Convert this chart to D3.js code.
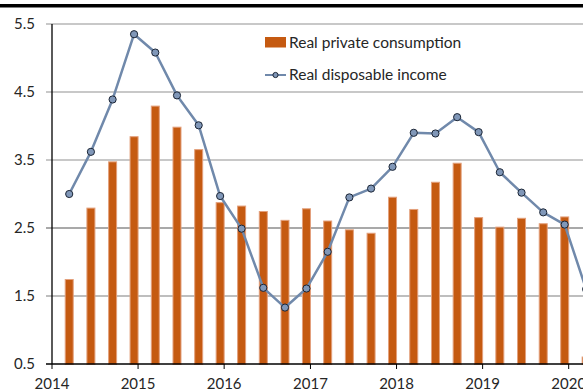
<!DOCTYPE html>
<html>
<head>
<meta charset="utf-8">
<script src="https://cdn.jsdelivr.net/npm/d3@7"></script>
<style>
  html, body { margin: 0; padding: 0; background: #fff; }
  svg { display: block; }
  text { font-family: Lato, "Open Sans", sans-serif; fill: #262626; }
</style>
</head>
<body>
<script>
// ---- Data ----
const quarters = [
  "2014Q1","2014Q2","2014Q3","2014Q4",
  "2015Q1","2015Q2","2015Q3","2015Q4",
  "2016Q1","2016Q2","2016Q3","2016Q4",
  "2017Q1","2017Q2","2017Q3","2017Q4",
  "2018Q1","2018Q2","2018Q3","2018Q4",
  "2019Q1","2019Q2","2019Q3","2019Q4",
  "2020Q1"
];
const consumption = [
  1.75, 2.80, 3.48, 3.85,
  4.30, 3.99, 3.66, 2.88,
  2.83, 2.75, 2.62, 2.79,
  2.61, 2.48, 2.43, 2.96,
  2.78, 3.18, 3.46, 2.66,
  2.52, 2.65, 2.57, 2.67,
  0.61
];
const income = [
  3.00, 3.62, 4.39, 5.35,
  5.08, 4.45, 4.01, 2.97,
  2.49, 1.62, 1.33, 1.61,
  2.15, 2.95, 3.08, 3.40,
  3.90, 3.89, 4.13, 3.91,
  3.32, 3.02, 2.73, 2.55,
  1.60
];
const yTicks = [0.5, 1.5, 2.5, 3.5, 4.5, 5.5];
const yearTicks = [2014, 2015, 2016, 2017, 2018, 2019, 2020];
const seriesNames = ["Real private consumption", "Real disposable income"];

// ---- Setup ----
const W = 583, H = 391;
const margin = { left: 52, top: 24, bottom: 27 };
const svg = d3.select("body").append("svg").attr("width", W).attr("height", H);

const toDate = q => new Date(+q.slice(0, 4), (+q.slice(5)) * 3 - 1, 15);
const dates = quarters.map(toDate);

const x = d3.scaleTime()
  .domain([new Date(2014, 0, 1), new Date(2020, 0, 1)])
  .range([margin.left, 568.7]);
const y = d3.scaleLinear().domain([0.5, 5.5]).range([H - margin.bottom, margin.top]);

// top black band
svg.append("rect").attr("x", 0).attr("y", 4).attr("width", W).attr("height", 3.5).attr("fill", "#000");

// gridlines
const gridColor = v => v >= 3.5 ? "#c8c8c8" : (v === 2.5 ? "#8c8c8c" : "#a8a8a8");
svg.append("g").selectAll("line")
  .data(yTicks.filter(v => v > 0.5))
  .join("line")
  .attr("x1", margin.left - 6).attr("x2", W)
  .attr("y1", d => y(d)).attr("y2", d => y(d))
  .attr("stroke", gridColor)
  .attr("stroke-width", d => d >= 3.5 ? 2 : 1.3);

// y tick labels
svg.append("g").selectAll("text")
  .data(yTicks)
  .join("text")
  .attr("x", 35).attr("y", d => y(d))
  .attr("text-anchor", "end").attr("dy", "0.35em")
  .style("font-size", "15px")
  .text(d => d.toFixed(1));

// bars
const bw = 9;
svg.append("g").selectAll("rect")
  .data(consumption)
  .join("rect")
  .attr("x", (d, i) => x(dates[i]) - bw / 2 + 0.5)
  .attr("y", d => y(d) + 0.5)
  .attr("width", bw - 1)
  .attr("height", d => y(0.5) - y(d))
  .attr("fill", "#c55a11")
  .attr("stroke", "#e3a07c")
  .attr("stroke-width", 1);

// axes lines
svg.append("line").attr("x1", margin.left).attr("x2", margin.left)
  .attr("y1", y(5.5)).attr("y2", y(0.5)).attr("stroke", "#000").attr("stroke-width", 1.3);
svg.append("line").attr("x1", margin.left - 6).attr("x2", W)
  .attr("y1", y(0.5)).attr("y2", y(0.5)).attr("stroke", "#000").attr("stroke-width", 1.3);

// x axis ticks + labels
const xt = svg.append("g").selectAll("g")
  .data(yearTicks)
  .join("g")
  .attr("transform", d => `translate(${x(new Date(d, 0, 1))},${y(0.5)})`);
xt.append("line").attr("y1", 0).attr("y2", 5).attr("stroke", "#000").attr("stroke-width", 1);
xt.append("text").attr("y", 24.5).attr("text-anchor", "middle")
  .style("font-size", "15px").text(d => d);

// line
const line = d3.line().x((d, i) => x(dates[i])).y(d => y(d));
svg.append("path").datum(income)
  .attr("d", line)
  .attr("fill", "none")
  .attr("stroke", "#7089ab")
  .attr("stroke-width", 2.5)
  .attr("stroke-linejoin", "round");
svg.append("g").selectAll("circle")
  .data(income)
  .join("circle")
  .attr("cx", (d, i) => x(dates[i])).attr("cy", d => y(d))
  .attr("r", 3.6)
  .attr("fill", "#8097b8")
  .attr("stroke", "#1b2535")
  .attr("stroke-width", 1);

// legend
const lg = svg.append("g");
lg.append("rect").attr("x", 265).attr("y", 37).attr("width", 21).attr("height", 10.5).attr("fill", "#c55a11");
lg.append("text").attr("x", 289).attr("y", 42.5).attr("dy", "0.35em")
  .style("font-size", "15.5px").text(seriesNames[0]);
lg.append("line").attr("x1", 265).attr("x2", 286).attr("y1", 75).attr("y2", 75)
  .attr("stroke", "#7089ab").attr("stroke-width", 2);
lg.append("circle").attr("cx", 275.5).attr("cy", 75).attr("r", 2.6)
  .attr("fill", "#8097b8").attr("stroke", "#1b2535").attr("stroke-width", 1);
lg.append("text").attr("x", 289).attr("y", 75).attr("dy", "0.35em")
  .style("font-size", "15.5px").text(seriesNames[1]);
</script>
</body>
</html>
